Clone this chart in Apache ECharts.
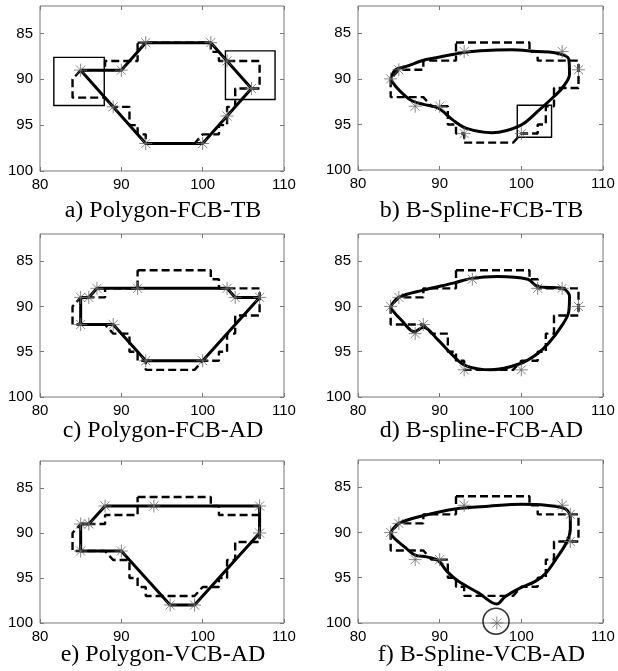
<!DOCTYPE html>
<html>
<head>
<meta charset="utf-8">
<script src="https://cdn.jsdelivr.net/npm/echarts@6/dist/echarts.min.js"></script>
<style>
  html, body { margin: 0; padding: 0; background: #fff; }
  #chart { width: 618px; height: 671px; }
</style>
</head>
<body>
<div id="chart"></div>
<script>
// tick labels
const xTicks = [80, 90, 100, 110];
const yTicks = [85, 90, 95, 100];

// chain-code boundary (dashed), same in every panel
const boundary = [
  [92, 86], [101, 86], [101, 87], [102, 87], [102, 88], [107, 88], [107, 91],
  [104, 91], [104, 93], [103, 93], [103, 95], [102, 95], [102, 96], [100, 96],
  [99, 97], [93, 97], [93, 96], [92, 96], [92, 95], [91, 95], [91, 93],
  [89, 93], [88, 92], [84, 92], [84, 90], [85, 89], [88, 89], [88, 88],
  [92, 88], [92, 86]
];

// a) Polygon-FCB-TB
const polyA = [[85, 89], [90, 89], [93, 86], [101, 86], [106, 91], [100, 97], [93, 97], [85, 89]];
const starsA = [[85, 89], [90, 89], [93, 86], [101, 86], [103, 88], [106, 91], [103, 94], [100, 97], [93, 97], [89, 93]];
const boxesA = [[[81.7, 87.6], [87.9, 92.85]], [[102.8, 86.9], [108.9, 92.2]]];

// b) B-Spline-FCB-TB
const curveB = [
  [84, 90], [84.6, 89], [86, 88.6], [88.2, 87.9], [90, 87.6], [92.9, 87.1], [95, 86.9],
  [98.8, 86.8], [101.9, 87], [103.9, 87.1], [105.8, 87.8], [105.9, 89.5], [105, 91],
  [103.8, 92.1], [102.2, 93.4], [99.9, 95.1], [96.4, 95.9], [93.2, 95.4], [91.6, 94.5],
  [89.8, 93.2], [88, 92.8], [86.6, 92.4], [85.8, 91.9], [84.6, 90.8], [84, 90]
];
const starsB = [[84, 90], [85, 89], [87, 93], [90, 93], [93, 96], [93, 87], [105, 87], [107, 89], [100, 96]];
const boxesB = [[[99.5, 92.9], [103.7, 96.4]]];

// c) Polygon-FCB-AD
const polyC = [[85, 89], [86, 89], [87, 88], [103, 88], [104, 89], [107, 89], [100, 96], [93, 96], [89, 92], [85, 92], [85, 89]];
const starsC = [[85, 89], [86, 89], [87, 88], [92, 88], [103, 88], [104, 89], [107, 89], [100, 96], [93, 96], [89, 92], [85, 92]];

// d) B-spline-FCB-AD
const curveD = [
  [84, 90], [85, 89], [88, 88.2], [91.8, 87.4], [93.9, 86.9], [97.1, 86.7], [100.8, 87],
  [102, 87.8], [105, 88], [105.9, 88.9], [105.8, 90.6], [104.9, 92.2], [103.3, 94.1],
  [102, 95.2], [99.9, 96.3], [96.3, 97], [93.1, 96.5], [91.4, 95.2], [89.8, 93.7],
  [88, 92.3], [86.9, 92.8], [85.3, 91.5], [84.2, 90.4], [84, 90]
];
const starsD = [[84, 90], [85, 89], [87, 93], [88, 92], [93, 97], [100, 97], [94, 87], [102, 88], [105, 88], [107, 90]];

// e) Polygon-VCB-AD
const polyE = [[85, 89], [86, 89], [88, 87], [107, 87], [107, 90], [99, 98], [96, 98], [90, 92], [85, 92], [85, 89]];
const starsE = [[85, 89], [86, 89], [88, 87], [94, 87], [107, 87], [107, 90], [99, 98], [96, 98], [90, 92], [85, 92]];

// f) B-Spline-VCB-AD
const curveF = [
  [84, 90], [85, 89], [88.2, 88.1], [91.9, 87.4], [96, 87.1], [100.1, 86.9], [103, 87],
  [105.4, 87.4], [106, 88.5], [106, 89.6], [105.6, 91], [104.2, 93], [103, 94.5],
  [101.7, 95.4], [99.7, 96.2], [98, 97.1], [97, 97.9], [94.8, 96.7], [92.3, 95.4],
  [90.9, 94.3], [89.8, 93.1], [88.4, 92.7], [87, 92.5], [85.7, 91.6], [84.3, 90.5], [84, 90]
];
const starsF = [[84, 90], [85, 89], [87, 93], [90, 93], [93, 87], [105, 87], [106, 88], [106, 91], [97, 100]];
const circleF = [[96.9, 99.8]];

const panels = [
  {label: 'a) Polygon-FCB-TB', solid: polyA, smooth: false, stars: starsA, boxes: boxesA, rect: [40, 6, 244, 165], titleTop: 194},
  {label: 'b) B-Spline-FCB-TB', solid: curveB, smooth: 0.35, stars: starsB, boxes: boxesB, rect: [358, 6, 245, 164], titleTop: 194},
  {label: 'c) Polygon-FCB-AD', solid: polyC, smooth: false, stars: starsC, rect: [40, 234, 244, 163], titleTop: 414},
  {label: 'd) B-spline-FCB-AD', solid: curveD, smooth: 0.35, stars: starsD, rect: [358, 234, 245, 163], titleTop: 414},
  {label: 'e) Polygon-VCB-AD', solid: polyE, smooth: false, stars: starsE, rect: [40, 461, 244, 162], titleTop: 638},
  {label: 'f) B-Spline-VCB-AD', solid: curveF, smooth: 0.35, stars: starsF, circles: circleF, rect: [358, 460, 245, 163], titleTop: 638},
];

const starPath = 'path://M0,-10L0,10M-10,0L10,0M-7,-7L7,7M-7,7L7,-7';
const frameColor = '#777';

const grid = [], xAxis = [], yAxis = [], series = [], title = [];

panels.forEach((p, i) => {
  const [left, top, width, height] = p.rect;
  grid.push({left, top, width, height, show: true, borderColor: frameColor, borderWidth: 1, backgroundColor: 'transparent'});

  title.push({
    text: p.label,
    left: left + width / 2 - 4,
    top: p.titleTop,
    textAlign: 'center',
    textStyle: {fontFamily: 'Liberation Serif', fontSize: 24, fontWeight: 'normal', color: '#000'},
  });

  const tickStyle = {show: true, inside: true, length: 4, lineStyle: {color: frameColor}};

  // bottom / left axes with labels
  xAxis.push({
    gridIndex: i, type: 'value', min: 80, max: 110, interval: 10, position: 'bottom',
    axisLine: {show: false}, splitLine: {show: false}, axisTick: tickStyle,
    axisLabel: {color: '#000', fontFamily: 'Liberation Sans', fontSize: 15, margin: 6},
  });
  yAxis.push({
    gridIndex: i, type: 'value', min: 82, max: 100, inverse: true, position: 'left',
    axisLine: {show: false}, splitLine: {show: false},
    axisTick: Object.assign({customValues: yTicks}, tickStyle),
    axisLabel: {customValues: yTicks, color: '#000', fontFamily: 'Liberation Sans', fontSize: 15, margin: 7},
  });
  // mirrored ticks on top / right
  xAxis.push({
    gridIndex: i, type: 'value', min: 80, max: 110, interval: 10, position: 'top',
    axisLine: {show: false}, splitLine: {show: false}, axisTick: tickStyle, axisLabel: {show: false},
  });
  yAxis.push({
    gridIndex: i, type: 'value', min: 82, max: 100, inverse: true, position: 'right',
    axisLine: {show: false}, splitLine: {show: false},
    axisTick: Object.assign({customValues: yTicks}, tickStyle), axisLabel: {show: false},
  });

  const xi = i * 2, yi = i * 2;

  series.push({
    type: 'line', xAxisIndex: xi, yAxisIndex: yi, data: boundary,
    showSymbol: false, silent: true, animation: false,
    lineStyle: {color: '#000', width: 2.4, type: [8, 4]},
    markArea: p.boxes ? {
      silent: true,
      itemStyle: {color: 'rgba(0,0,0,0)', borderColor: '#000', borderWidth: 1.4},
      data: p.boxes.map(b => [{coord: b[0]}, {coord: b[1]}]),
    } : undefined,
  });

  series.push({
    type: 'line', xAxisIndex: xi, yAxisIndex: yi, data: p.solid,
    smooth: p.smooth, showSymbol: false, silent: true, animation: false,
    lineStyle: {color: '#000', width: 3},
  });

  series.push({
    type: 'scatter', xAxisIndex: xi, yAxisIndex: yi, data: p.stars,
    symbol: starPath, symbolSize: 13, clip: false, silent: true, animation: false,
    itemStyle: {color: 'rgba(0,0,0,0)', borderColor: '#6a6a6a', borderWidth: 1},
    z: 5,
  });

  if (p.circles) {
    series.push({
      type: 'scatter', xAxisIndex: xi, yAxisIndex: yi, data: p.circles,
      symbol: 'circle', symbolSize: 26, clip: false, silent: true, animation: false,
      itemStyle: {color: 'rgba(0,0,0,0)', borderColor: '#000', borderWidth: 1.6},
      z: 6,
    });
  }
});

const chart = echarts.init(document.getElementById('chart'), null, {renderer: 'canvas'});
chart.setOption({
  backgroundColor: '#fff',
  animation: false,
  title,
  grid,
  xAxis,
  yAxis,
  series,
});
</script>
</body>
</html>
